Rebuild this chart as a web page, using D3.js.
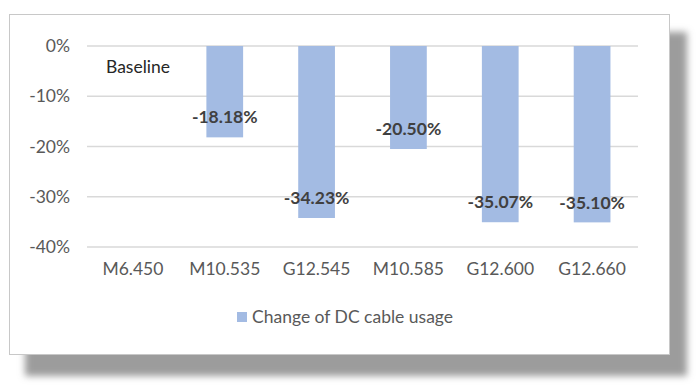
<!DOCTYPE html>
<html><head><meta charset="utf-8">
<script src="https://cdn.jsdelivr.net/npm/d3@7"></script>
<style>body{margin:0;background:#fff}svg{display:block}</style>
</head><body>
<svg id="c" width="700" height="390"></svg>
<script>
const categories = ["M6.450","M10.535","G12.545","M10.585","G12.600","G12.660"];
const values = [null,-18.18,-34.23,-20.50,-35.07,-35.10];
const labels = ["","-18.18%","-34.23%","-20.50%","-35.07%","-35.10%"];
const yTicks = [0,-10,-20,-30,-40];
const seriesName = "Change of DC cable usage";
const annotation = "Baseline";

const svg = d3.select("#c");
const font = "Lato, 'Open Sans', sans-serif";
const fs = 17.5;
const defs = svg.append("defs");
const f = defs.append("filter").attr("id","sh").attr("x","-10%").attr("y","-10%").attr("width","120%").attr("height","120%");
f.append("feGaussianBlur").attr("stdDeviation",3.5);

// frame + shadow
svg.append("rect").attr("x",25).attr("y",32).attr("width",662).attr("height",344).attr("fill","#9c9c9c").attr("filter","url(#sh)");
svg.append("rect").attr("x",9.5).attr("y",14.5).attr("width",660).attr("height",340).attr("fill","#fff").attr("stroke","#c8c8c8");

const x = d3.scaleBand().domain(categories).range([87,638]).paddingInner(0.6).paddingOuter(0.3);
const y = d3.scaleLinear().domain([-40,0]).range([247,46]);

// gridlines
svg.append("g").selectAll("line").data(yTicks).join("line")
  .attr("x1",87).attr("x2",638).attr("y1",d=>y(d)).attr("y2",d=>y(d))
  .attr("stroke","#d9d9d9").attr("stroke-width",1.3);

// y axis
const ya = svg.append("g").attr("transform","translate(87,0)")
  .call(d3.axisLeft(y).tickValues(yTicks).tickFormat(d=>d+"%").tickSize(0).tickPadding(17));
ya.select(".domain").remove();
ya.selectAll("text").attr("font-family",font).attr("font-size",fs).attr("fill","#595959");

// bars
const data = categories.map((c,i)=>({c,v:values[i],l:labels[i]}));
svg.append("g").selectAll("rect").data(data.filter(d=>d.v!==null)).join("rect")
  .attr("x",d=>x(d.c)).attr("width",x.bandwidth())
  .attr("y",y(0)).attr("height",d=>y(d.v)-y(0))
  .attr("fill","#a3bbe3");

// x axis labels
const xa = svg.append("g").attr("transform","translate(0,247)")
  .call(d3.axisBottom(x).tickSize(0).tickPadding(16));
xa.select(".domain").remove();
xa.selectAll("text").attr("font-family",font).attr("font-size",fs).attr("fill","#595959");

// data labels
svg.append("g").selectAll("text").data(data.filter(d=>d.v!==null)).join("text")
  .attr("x",d=>x(d.c)+x.bandwidth()/2).attr("y",d=>y(d.v)-20)
  .attr("dy","0.35em").attr("text-anchor","middle")
  .attr("font-family",font).attr("font-size",fs).attr("font-weight","bold").attr("fill","#404040")
  .text(d=>d.l);

// baseline annotation
svg.append("text").attr("x",106).attr("y",67).attr("dy","0.35em")
  .attr("font-family",font).attr("font-size",fs).attr("fill","#262626").text(annotation);

// legend
const lg = svg.append("g");
lg.append("rect").attr("x",237).attr("y",312).attr("width",10).attr("height",10).attr("fill","#a3bbe3");
lg.append("text").attr("x",252).attr("y",317).attr("dy","0.35em")
  .attr("font-family",font).attr("font-size",fs).attr("fill","#595959").text(seriesName);
</script>
</body></html>
